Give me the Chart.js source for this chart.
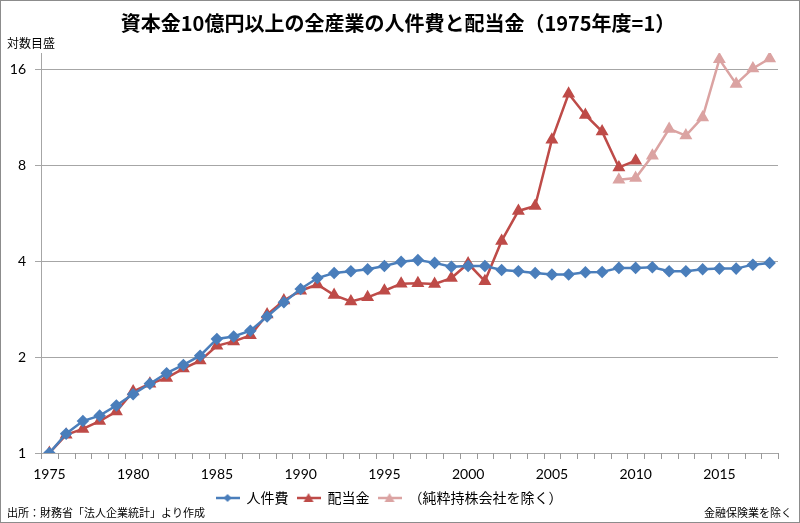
<!DOCTYPE html>
<html>
<head>
<meta charset="utf-8">
<script src="https://cdn.jsdelivr.net/npm/chart.js@4.4.1/dist/chart.umd.min.js"></script>
<style>
  html, body { margin: 0; padding: 0; background: #fff; }
  #wrap { width: 800px; height: 523px; position: relative; }
</style>
</head>
<body>
<div id="wrap"><canvas id="chart" width="800" height="523"></canvas></div>
<script>
const years = ['1975','1976','1977','1978','1979','1980','1981','1982','1983','1984',
  '1985','1986','1987','1988','1989','1990','1991','1992','1993','1994',
  '1995','1996','1997','1998','1999','2000','2001','2002','2003','2004',
  '2005','2006','2007','2008','2009','2010','2011','2012','2013','2014',
  '2015','2016','2017','2018'];

// 人件費
const laborCost = [1.00, 1.15, 1.26, 1.31, 1.41, 1.53, 1.65, 1.78, 1.89, 2.02,
  2.28, 2.32, 2.42, 2.68, 2.97, 3.27, 3.54, 3.67, 3.72, 3.77,
  3.86, 3.98, 4.03, 3.95, 3.84, 3.86, 3.86, 3.75, 3.72, 3.67,
  3.63, 3.63, 3.69, 3.70, 3.81, 3.81, 3.83, 3.72, 3.72, 3.77,
  3.79, 3.79, 3.90, 3.95];

// 配当金
const dividends = [1.00, 1.14, 1.19, 1.26, 1.35, 1.56, 1.65, 1.72, 1.84, 1.95,
  2.17, 2.24, 2.34, 2.72, 3.01, 3.23, 3.38, 3.13, 2.99, 3.08,
  3.23, 3.40, 3.41, 3.39, 3.54, 3.93, 3.46, 4.63, 5.75, 5.96,
  9.61, 13.4, 11.5, 10.2, 7.87, 8.27, null, null, null, null,
  null, null, null, null];

// 配当金（純粋持株会社を除く）
const dividendsExHolding = [null, null, null, null, null, null, null, null, null, null,
  null, null, null, null, null, null, null, null, null, null,
  null, null, null, null, null, null, null, null, null, null,
  null, null, null, null, 7.20, 7.29, 8.57, 10.4, 9.91, 11.3,
  17.2, 14.4, 16.1, 17.3];

const yTicks = [1, 2, 4, 8, 16];
const xLabelYears = ['1975','1980','1985','1990','1995','2000','2005','2010','2015'];

const BLUE = '#4a7ebb';
const RED = '#be4b48';
const PINK = '#dba3a2';
const GRID = '#a6a6a6';
const JP = '"Noto Sans CJK JP", sans-serif';
const NUM = 'Lato, "Noto Sans CJK JP", sans-serif';

function legendIcon(color, shape) {
  const c = document.createElement('canvas');
  c.width = 24; c.height = 12;
  const g = c.getContext('2d');
  g.strokeStyle = color; g.fillStyle = color; g.lineWidth = 2.5;
  g.beginPath(); g.moveTo(0, 6); g.lineTo(24, 6); g.stroke();
  g.beginPath();
  if (shape === 'diamond') {
    g.moveTo(12, 2); g.lineTo(16, 6); g.lineTo(12, 10); g.lineTo(8, 6);
  } else {
    g.moveTo(12, 1); g.lineTo(17, 10); g.lineTo(7, 10);
  }
  g.closePath(); g.fill();
  return c;
}
const icons = [legendIcon(BLUE, 'diamond'), legendIcon(RED, 'tri'), legendIcon(PINK, 'tri')];

// tick marks between the year categories, placed via the x scale
const catTicks = {
  id: 'catTicks',
  afterDraw(chart) {
    const { ctx, chartArea } = chart;
    const xs = chart.scales.x;
    const half = (xs.getPixelForValue(1) - xs.getPixelForValue(0)) / 2;
    ctx.save();
    ctx.strokeStyle = '#999';
    ctx.lineWidth = 1;
    ctx.beginPath();
    for (let i = 0; i <= years.length; i++) {
      const x = Math.round(xs.getPixelForValue(i) - half) + 0.5;
      ctx.moveTo(x, chartArea.bottom);
      ctx.lineTo(x, chartArea.bottom + 6);
    }
    ctx.stroke();
    ctx.restore();
  }
};

const decor = {
  id: 'decor',
  afterDraw(chart) {
    const { ctx } = chart;
    ctx.save();
    ctx.fillStyle = '#000';
    ctx.textBaseline = 'middle';
    ctx.textAlign = 'center';
    ctx.font = 'bold 20px ' + JP;
    ctx.fillText('資本金10億円以上の全産業の人件費と配当金（1975年度=1）', 398, 23);

    ctx.textAlign = 'left';
    ctx.font = '12px ' + JP;
    ctx.fillText('対数目盛', 7, 43);
    ctx.font = '11px ' + JP;
    ctx.fillText('出所：財務省「法人企業統計」より作成', 7, 513);
    ctx.textAlign = 'right';
    ctx.fillText('金融保険業を除く', 792, 513);

    ctx.strokeStyle = '#8c8c8c';
    ctx.lineWidth = 1;
    ctx.strokeRect(0.5, 0.5, 799, 522);
    ctx.restore();
  }
};

new Chart(document.getElementById('chart'), {
  type: 'line',
  data: {
    labels: years,
    datasets: [
      {
        label: '人件費',
        data: laborCost,
        borderColor: BLUE,
        backgroundColor: BLUE,
        borderWidth: 2.5,
        pointStyle: 'rectRot',
        pointRadius: 4.5,
        pointHoverRadius: 4.5,
        tension: 0
      },
      {
        label: '配当金',
        data: dividends,
        borderColor: RED,
        backgroundColor: RED,
        borderWidth: 2.5,
        pointStyle: 'triangle',
        pointRadius: 5,
        pointHoverRadius: 5,
        spanGaps: false,
        tension: 0
      },
      {
        label: '（純粋持株会社を除く）',
        data: dividendsExHolding,
        borderColor: PINK,
        backgroundColor: PINK,
        borderWidth: 2.5,
        pointStyle: 'triangle',
        pointRadius: 5,
        pointHoverRadius: 5,
        spanGaps: false,
        tension: 0
      }
    ]
  },
  options: {
    responsive: false,
    animation: false,
    layout: { padding: { top: 53, right: 22, left: 0, bottom: 8 } },
    plugins: {
      title: { display: false },
      tooltip: { enabled: false },
      legend: {
        position: 'bottom',
        labels: {
          usePointStyle: true,
          pointStyleWidth: 24,
          padding: 8,
          color: '#000',
          font: { family: JP, size: 14 },
          generateLabels(chart) {
            const items = Chart.defaults.plugins.legend.labels.generateLabels(chart);
            items.forEach((it, i) => { it.pointStyle = icons[i]; });
            return items;
          }
        }
      }
    },
    scales: {
      x: {
        type: 'category',
        offset: true,
        grid: { display: false, drawTicks: true, tickLength: 6 },
        border: { display: true, color: GRID, width: 1 },
        ticks: {
          autoSkip: false,
          maxRotation: 0,
          padding: 7,
          color: '#000',
          font: { family: NUM, size: 14 },
          callback(v) {
            const lab = this.getLabelForValue(v);
            return xLabelYears.includes(lab) ? lab : '';
          }
        },
        afterFit(s) { s.height = 30; s.paddingLeft = 0; s.paddingRight = 0; }
      },
      y: {
        type: 'logarithmic',
        min: 1,
        max: 18,
        afterBuildTicks(s) { s.ticks = yTicks.map(v => ({ value: v })); },
        grid: { color: GRID, lineWidth: 1, tickLength: 6 },
        border: { color: GRID, width: 1 },
        ticks: {
          padding: 9,
          color: '#000',
          font: { family: NUM, size: 14 },
          callback: v => String(v)
        },
        afterFit(s) { s.width = 41; s.paddingTop = 0; s.paddingBottom = 0; }
      }
    }
  },
  plugins: [catTicks, decor]
});
</script>
</body>
</html>
